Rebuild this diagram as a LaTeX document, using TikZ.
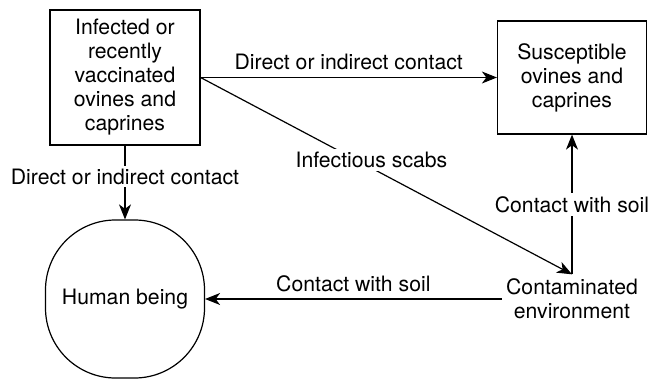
\documentclass[tikz,border=0pt]{standalone}
\usepackage{fontspec}
\setmainfont{TeX Gyre Heros}
\usetikzlibrary{arrows.meta}

\begin{document}
\begin{tikzpicture}[x=0.5pt, y=-0.5pt, line width=0.6pt,
        >={Stealth[length=7.5pt, width=6pt, inset=2.2pt]},
        font=\fontsize{10.6}{12}\selectfont,
        hostbox/.style={draw, align=center, inner sep=0pt},
        onlabel/.style={fill=white, inner sep=1.5pt}]
    \useasboundingbox (0,0) rectangle (652,380);

    % hosts and environment
    \node[hostbox, minimum width=75pt, minimum height=67.5pt] (infected) at (125,77.5)
        {Infected or\\recently\\vaccinated\\ovines and\\caprines};
    \node[hostbox, minimum width=74.5pt, minimum height=56.5pt] (susceptible) at (572,77.5)
        {Susceptible\\ovines and\\caprines};
    \node[draw, rounded corners=35pt, minimum width=79.5pt, minimum height=79pt, inner sep=0pt]
        (human) at (125,299) {Human being};
    \node[align=center, inner sep=2pt] (environment) at (572,299) {Contaminated\\environment};

    % transmission routes
    \draw[->] (infected) -- node[above] {Direct or indirect contact} (susceptible);
    \draw[->] (infected.east) -- node[onlabel, pos=0.46, yshift=4pt] {Infectious scabs} (environment.north);
    \draw[->] (infected) -- node[onlabel, pos=0.42] {Direct or indirect contact} (human);
    \draw[->] (environment) -- node[onlabel] {Contact with soil} (susceptible);
    \draw[->] (environment) -- node[above] {Contact with soil} (human);
\end{tikzpicture}
\end{document}
